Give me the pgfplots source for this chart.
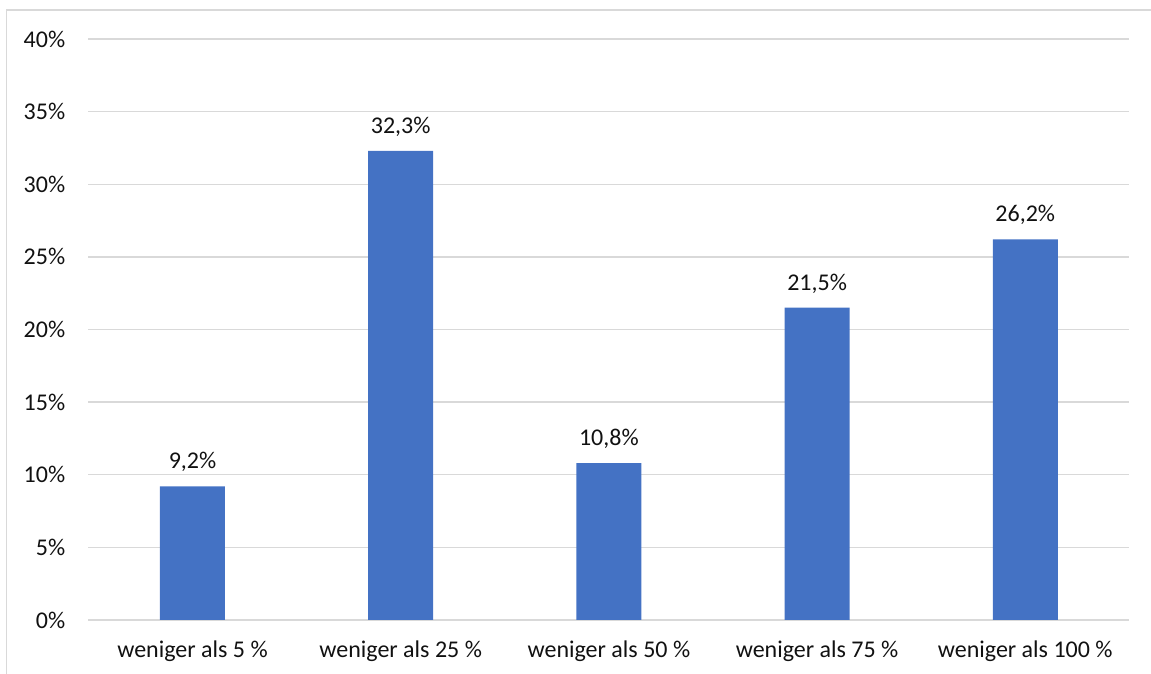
\documentclass[border=0pt]{standalone}
\usepackage{pgfplots}
\pgfplotsset{compat=1.18}
\usepackage{fontspec}
\setmainfont{Carlito}
\definecolor{barblue}{HTML}{4472C4}
\definecolor{gridgray}{HTML}{D9D9D9}
\definecolor{txt}{HTML}{111111}
\begin{document}
\fontsize{24bp}{29bp}\selectfont
\begin{tikzpicture}[font=\fontsize{24bp}{29bp}\selectfont]
\useasboundingbox (0,0) rectangle (1151bp,674bp);
\draw[gridgray, line width=1.5bp] (6.5bp,-10bp) |- (1170bp,664bp);
\begin{axis}[
  at={(88.4bp,54bp)}, anchor=south west,
  scale only axis, width=1041bp, height=581bp,
  xmin=-0.5, xmax=4.5, ymin=0, ymax=40,
  ybar, bar width=65bp,
  axis line style={draw=none},
  major tick length=0,
  ytick={0,5,...,40},
  yticklabel={\pgfmathprintnumber{\tick}\%},
  ymajorgrids, grid style={gridgray, line width=1.3bp},
  xtick={0,1,2,3,4},
  xticklabels={weniger als 5 \%, weniger als 25 \%, weniger als 50 \%, weniger als 75 \%, weniger als 100 \%},
  /pgf/number format/assume math mode=true,
  yticklabel style={anchor=east, inner sep=0pt, xshift=-23bp, text=txt},
  xticklabel style={anchor=base, inner sep=0pt, yshift=-37bp, text=txt},
  nodes near coords={\pgfmathprintnumber[fixed,fixed zerofill,precision=1,use comma,assume math mode=true]{\pgfplotspointmeta}\%},
  nodes near coords style={anchor=base, inner sep=0pt, yshift=17.7bp, text=txt},
]
\addplot[fill=barblue, draw=none] coordinates {(0,9.2) (1,32.3) (2,10.8) (3,21.5) (4,26.2)};
\end{axis}
\end{tikzpicture}
\end{document}
